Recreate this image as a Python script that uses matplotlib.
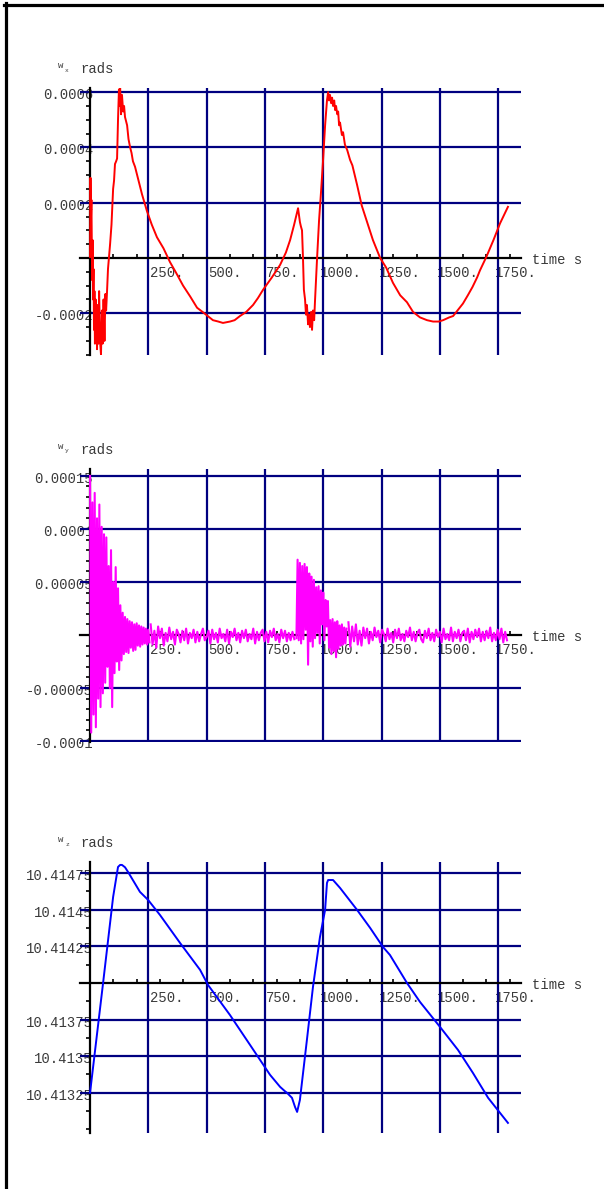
import numpy as np
import matplotlib
matplotlib.use("Agg")
import matplotlib.pyplot as plt
from matplotlib.ticker import MultipleLocator
from matplotlib.lines import Line2D
import matplotlib.transforms as mtransforms

plt.rcParams['font.family'] = ['Liberation Mono', 'DejaVu Sans Mono']

# ---- data ----
# time axis ticks
xtick_vals = [250, 500, 750, 1000, 1250, 1500, 1750]
xtick_labels = ["250.", "500.", "750.", "1000.", "1250.", "1500.", "1750."]

# wx (units 1e-4 rad/s)
wx_t = [0, 2, 4, 6, 9, 11, 13, 15, 17, 19, 21, 24, 26, 28, 30, 33, 36, 39, 43, 47,
        51, 54, 58, 62, 66, 69, 73, 77, 82, 86, 92, 99, 103, 107, 112, 116, 120, 124, 127, 129,
        133, 137, 142, 146, 150, 159, 165, 172, 178, 184, 193, 202, 223, 244, 265, 287, 315, 343, 370, 399,
        430, 459, 490, 527, 550, 570, 600, 620, 643, 670, 699, 720, 742, 780, 815, 840, 858, 875, 885, 892,
        896, 900, 904, 909, 913, 917, 922, 926, 930, 935, 939, 943, 948, 952, 956, 961, 965, 973, 982, 991,
        999, 1008, 1016, 1021, 1025, 1029, 1034, 1038, 1042, 1047, 1051, 1055, 1060, 1064, 1068, 1072, 1080, 1085, 1093, 1103,
        1115, 1125, 1145, 1165, 1188, 1213, 1244, 1270, 1299, 1330, 1359, 1385, 1415, 1445, 1471, 1495, 1514, 1540, 1557, 1580,
        1599, 1620, 1640, 1660, 1672, 1700, 1730, 1758, 1792]
wx_v = [0.04, 2.9, 1.4, 2.1, -0.8, 0.65, -1.5, -0.4, -2.6, -1.2, -3.1, -1.5, -3.0, -1.9, -3.3, -1.7, -3.1, -1.2, -3.0, -3.5,
        -1.9, -3.1, -1.5, -3.0, -1.3, -1.9, -1.2, -0.4, 0.1, 0.5, 1.2, 2.5, 2.8, 3.4, 3.5, 3.6, 5.0, 6.1, 5.5, 6.2,
        5.2, 5.9, 5.3, 5.5, 5.1, 4.8, 4.3, 4.0, 3.8, 3.5, 3.3, 3.0, 2.3, 1.7, 1.2, 0.75, 0.35, -0.15, -0.55, -1.0,
        -1.4, -1.8, -2.0, -2.25, -2.3, -2.35, -2.3, -2.25, -2.1, -1.95, -1.7, -1.45, -1.15, -0.7, -0.25, 0.2, 0.65, 1.2, 1.55, 1.8,
        1.55, 1.3, 1.15, 1.0, 0.05, -1.15, -1.5, -2.05, -1.7, -2.4, -2.05, -2.5, -1.95, -2.6, -1.9, -2.25, -1.5, -0.1, 1.35, 2.45,
        3.5, 4.8, 5.7, 6.0, 5.7, 5.9, 5.6, 5.8, 5.5, 5.7, 5.35, 5.5, 5.2, 5.3, 4.8, 4.9, 4.45, 4.55, 4.1, 3.9,
        3.55, 3.35, 2.65, 1.9, 1.3, 0.65, 0.0, -0.35, -0.9, -1.35, -1.6, -1.95, -2.15, -2.25, -2.3, -2.3, -2.25, -2.15, -2.1, -1.85,
        -1.65, -1.35, -1.05, -0.7, -0.45, 0.05, 0.65, 1.25, 1.85]

# wy (units 1e-5 rad/s), uniformly sampled segments: (start, step, values)
wy_seg_a = [15.0, -9.2, 12.5, -7.5, 13.4, -8.7, 11.0, -6.0, 12.3, -6.8,
            10.2, -5.5, 9.5, -4.5, 9.2, -3.0, 6.5, -5.0, 8.0, -6.8,
            5.0, -3.6, 6.4, -2.5, 4.4, -3.3, 2.8, -2.4, 2.1, -1.8,
            1.7, -1.6, 1.5, -1.7, 1.3, -1.2, 1.2, -1.5, 1.0, -1.4,
            1.1, -1.0, 0.9, -1.1, 0.8, -0.9, 0.7, -0.8, 0.6, -0.9, 0.5, -0.7]
wy_seg_b = [1.0, -0.9, 0.4, -1.2, 0.8, -0.3, 0.6, -1.0, 0.2, -0.6,
            0.7, -0.4, 0.3, -0.9, 0.5, 0.1, -0.7, 0.4, -0.5, 0.6,
            -0.8, 0.2, -0.3, 0.5, -0.7, 0.3, -0.6, 0.1, 0.6, -0.5,
            -0.2, 0.4, -0.8, 0.5, -0.4, 0.2, -0.7, 0.6, -0.3, 0.1,
            -0.6, 0.5, -0.8, 0.3, -0.2, 0.6, -0.5, 0.2, -0.7, 0.4,
            -0.3, 0.5, -0.6, 0.1, -0.4, 0.6, -0.8, 0.3, -0.5, 0.2,
            0.5, -0.6, 0.3, -0.7, 0.4, -0.2, 0.6, -0.5, 0.1, -0.7,
            0.5, -0.3, 0.4, -0.6, 0.2, -0.5, 0.3, -0.4]
wy_seg_c = [-0.3, 7.1, -0.5, 6.8, -0.8, 6.5, -0.4, 6.7, 0.5, 6.4,
            -2.8, 5.8, -0.6, 5.5, -1.1, 5.2, -0.3, 4.5, 0.2, 4.6,
            -0.8, 4.2, 1.0, 4.0, -0.5, 3.3, 0.8, 3.2, -1.2, 1.4,
            -1.8, 1.5, -1.5, 1.2, -2.1, 1.3, -1.3, 0.9, -1.0, 1.0,
            -0.9, 0.7, -0.8, 0.6]
wy_seg_d = [1.2, -1.1, 0.8, -0.6, 1.0, -0.9, 0.4, -1.0, 0.7, -0.3,
            0.6, -0.8, 0.3, -0.5, 0.7, -0.2, 0.4, -0.7, 0.5, 0.1,
            -0.6, 0.6, -0.4, 0.2, -0.7, 0.5, -0.3, 0.6, -0.5, 0.1,
            -0.6, 0.4, -0.2, 0.7, -0.5, 0.3, -0.6, 0.2, 0.5, -0.4,
            -0.7, 0.4, -0.3, 0.6, -0.5, 0.2, -0.6, 0.5, -0.2, 0.3,
            -0.7, 0.6, -0.4, 0.1, -0.5, 0.7, -0.6, 0.3, -0.3, 0.5,
            -0.6, 0.2, 0.4, -0.5, 0.6, -0.7, 0.3, -0.4, 0.5, -0.2,
            0.6, -0.6, 0.3, -0.5, 0.4, -0.3, 0.7, -0.6, 0.2, -0.5,
            0.5, -0.4, 0.6, -0.7, 0.3, -0.5]
wy_segments = [(0, 5, wy_seg_a), (260, 8, wy_seg_b), (885, 5, wy_seg_c), (1108, 8, wy_seg_d)]

# wz (rad/s)
wz_t = [0, 56, 99, 120, 129, 137, 150, 163, 214, 249, 300, 386, 472, 506, 600, 686, 772, 815, 836, 845,
        866, 879, 888, 900, 930, 956, 986, 1008, 1016, 1021, 1042, 1072, 1145, 1201, 1256, 1286, 1359, 1415, 1501, 1578,
        1642, 1707, 1792]
wz_v = [10.413249, 10.414000, 10.414587, 10.414792, 10.414806, 10.414806, 10.414790, 10.414758, 10.414622, 10.414567,
        10.414464, 10.414273, 10.414089, 10.413986, 10.413781, 10.413577, 10.413372, 10.413290, 10.413260, 10.413249,
        10.413215, 10.413153, 10.413119, 10.413201, 10.413611, 10.413973, 10.414314, 10.414499, 10.414683, 10.414703,
        10.414703, 10.414649, 10.414499, 10.414376, 10.414246, 10.414191, 10.414000, 10.413870, 10.413699, 10.413542,
        10.413385, 10.413215, 10.413044]

W, H = 604, 1189
XMIN, XMAX = -43, 1848
GRID = '#000080'
TXT = '#3a3a3a'
FS = 10

fig = plt.figure(figsize=(W / 100, H / 100), dpi=100)


def add_panel(top, bottom):
    return fig.add_axes([80 / W, 1 - bottom / H, 441 / W, (bottom - top) / H])


def off(ax, dx, dy):
    return mtransforms.offset_copy(ax.transData, fig=fig, x=dx, y=dy, units='dots')


def style(ax, ylim, y0, yticks, ylabels, yminor, sub):
    ax.set_xlim(XMIN, XMAX)
    ax.set_ylim(*ylim)
    ax.spines['top'].set_visible(False)
    ax.spines['right'].set_visible(False)
    ax.spines['left'].set_position(('data', 0))
    ax.spines['bottom'].set_position(('data', y0))
    ax.spines['left'].set_linewidth(1.6)
    ax.spines['bottom'].set_linewidth(1.6)
    ax.set_xticks(xtick_vals)
    ax.xaxis.set_minor_locator(MultipleLocator(100))
    ax.set_yticks(yticks)
    ax.yaxis.set_minor_locator(MultipleLocator(yminor))
    ax.tick_params(axis='x', which='major', direction='in', length=0, labelbottom=False)
    ax.tick_params(axis='x', which='minor', direction='in', length=3, width=1.2)
    ax.tick_params(axis='y', which='major', direction='out', length=0, labelleft=False)
    ax.tick_params(axis='y', which='minor', direction='out', length=3, width=1.2)
    ax.grid(True, which='major', color=GRID, linewidth=1.6)

    for t, lab in zip(xtick_vals, xtick_labels):
        ax.text(t, y0, lab, transform=off(ax, 18, -15), ha='center', va='center',
                fontsize=FS, color=TXT, zorder=1)
    for v, lab in zip(yticks, ylabels):
        ax.text(0, v, lab, transform=off(ax, 3, -3), ha='right', va='center',
                fontsize=FS, color=TXT, zorder=1)
    ax.text(XMAX, y0, "time s", transform=off(ax, 11, -2), ha='left', va='center',
            fontsize=FS, color=TXT)
    ytop = ylim[1]
    ax.text(0, ytop, "rads", transform=off(ax, -10, 19), ha='left', va='center',
            fontsize=FS, color=TXT)
    ax.text(0, ytop, "w", transform=off(ax, -32, 22), ha='left', va='center',
            fontsize=6.5, color=TXT)
    ax.text(0, ytop, sub, transform=off(ax, -25, 18), ha='left', va='center',
            fontsize=4.5, color=TXT)


# panel 1: wx
ax1 = add_panel(88, 355)
ax1.plot(wx_t, np.array(wx_v) * 1e-4, color='red', lw=1.4, zorder=3)
style(ax1, (-0.000351, 0.000615), 0,
      [-0.0002, 0.0002, 0.0004, 0.0006], ["-0.0002", "0.0002", "0.0004", "0.0006"],
      0.00005, "x")

# panel 2: wy
ax2 = add_panel(469, 742)
for start, step, vals in wy_segments:
    tt = start + step * np.arange(len(vals))
    ax2.plot(tt, np.array(vals) * 1e-5, color='#ff00ff', lw=1.5, zorder=3)
style(ax2, (-0.0001009, 0.0001565), 0,
      [-0.0001, -0.00005, 0.00005, 0.0001, 0.00015],
      ["-0.0001", "-0.00005", "0.00005", "0.0001", "0.00015"],
      0.00001, "y")

# panel 3: wz
ax3 = add_panel(862, 1133)
ax3.plot(wz_t, wz_v, color='#0000ff', lw=1.4, zorder=3)
style(ax3, (10.412975, 10.414826), 10.414,
      [10.41325, 10.4135, 10.41375, 10.41425, 10.4145, 10.41475],
      ["10.41325", "10.4135", "10.41375", "10.41425", "10.4145", "10.41475"],
      0.000125, "z")

# frame lines at left and top of the page
fig.add_artist(Line2D([5.5 / W, 5.5 / W], [0, 1 - 3 / H], color='black', lw=2.3))
fig.add_artist(Line2D([4 / W, 1], [1 - 4.5 / H, 1 - 4.5 / H], color='black', lw=2.3))

fig.savefig("out.png", dpi=100)
